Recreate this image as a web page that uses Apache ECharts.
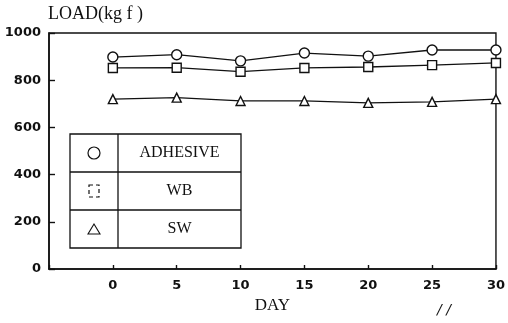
<!DOCTYPE html>
<html>
<head>
<meta charset="utf-8">
<script src="https://cdn.jsdelivr.net/npm/echarts@6/dist/echarts.min.js"></script>
<style>
  html, body { margin: 0; padding: 0; background: #fff; }
  #chart { width: 508px; height: 323px; }
</style>
</head>
<body>
<div id="chart"></div>
<script>
// days of measurement
var days = [0, 5, 10, 15, 20, 25, 30];
// load values (kgf)
var adhesive = [898, 908, 882, 915, 902, 928, 928];
var wb = [852, 853, 836, 852, 856, 864, 873];
var sw = [720, 726, 712, 712, 704, 708, 720];
var yTicks = [0, 200, 400, 600, 800, 1000];
var legendNames = ['ADHESIVE', 'WB', 'SW'];

function pairs(vals) {
  return days.map(function (d, i) { return [d, vals[i]]; });
}

var chart = echarts.init(document.getElementById('chart'));

var markStyle = { color: '#fff', borderColor: '#111', borderWidth: 1.4 };
var lineStyle = { color: '#111', width: 1.3 };

function mkSeries(name, vals, symbol, size) {
  return {
    name: name,
    type: 'line',
    data: pairs(vals),
    symbol: symbol,
    symbolSize: size,
    showAllSymbol: true,
    lineStyle: lineStyle,
    itemStyle: markStyle,
    animation: false,
    z: 3
  };
}

// legend table drawn as plain shapes
var tbl = { x: 70, y: 134, w: 171, h: 114, col: 48 };
var rowH = tbl.h / 3;
var graphics = [
  { type: 'rect', shape: { x: tbl.x, y: tbl.y, width: tbl.w, height: tbl.h },
    style: { fill: '#fff', stroke: '#111', lineWidth: 1.3 }, z: 10 },
  { type: 'line', shape: { x1: tbl.x + tbl.col, y1: tbl.y, x2: tbl.x + tbl.col, y2: tbl.y + tbl.h },
    style: { stroke: '#111', lineWidth: 1.3 }, z: 11 },
  { type: 'line', shape: { x1: tbl.x, y1: tbl.y + rowH, x2: tbl.x + tbl.w, y2: tbl.y + rowH },
    style: { stroke: '#111', lineWidth: 1.3 }, z: 11 },
  { type: 'line', shape: { x1: tbl.x, y1: tbl.y + 2 * rowH, x2: tbl.x + tbl.w, y2: tbl.y + 2 * rowH },
    style: { stroke: '#111', lineWidth: 1.3 }, z: 11 },
  { type: 'circle', shape: { cx: tbl.x + tbl.col / 2, cy: tbl.y + rowH / 2, r: 6 },
    style: { fill: '#fff', stroke: '#111', lineWidth: 1.2 }, z: 12 },
  { type: 'rect', shape: { x: tbl.x + tbl.col / 2 - 5, y: tbl.y + rowH * 1.5 - 6, width: 10, height: 12 },
    style: { fill: '#fff', stroke: '#111', lineWidth: 1.2, lineDash: [4, 3] }, z: 12 },
  { type: 'polygon', shape: { points: [
      [tbl.x + tbl.col / 2, tbl.y + rowH * 2.5 - 5],
      [tbl.x + tbl.col / 2 - 6, tbl.y + rowH * 2.5 + 5],
      [tbl.x + tbl.col / 2 + 6, tbl.y + rowH * 2.5 + 5]] },
    style: { fill: '#fff', stroke: '#111', lineWidth: 1.1 }, z: 12 },
  { type: 'text', x: 48, y: 5,
    style: { text: 'LOAD(kg f )', font: '18px "Liberation Serif"', fill: '#111' } },
  { type: 'text', x: 437, y: 303,
    style: { text: '/ /', font: 'italic 14px "DejaVu Sans"', fill: '#111' } }
];
legendNames.forEach(function (n, i) {
  graphics.push({
    type: 'text', z: 12,
    x: tbl.x + tbl.col + (tbl.w - tbl.col) / 2,
    y: tbl.y + rowH * (i + 0.5),
    style: { text: n, font: '16px "Liberation Serif"', fill: '#111', align: 'center', verticalAlign: 'middle' }
  });
});

chart.setOption({
  animation: false,
  backgroundColor: '#fff',
  grid: {
    left: 49, right: 6, top: 33, bottom: 54,
    show: true, borderColor: '#111', borderWidth: 1.4, backgroundColor: 'transparent'
  },
  xAxis: {
    type: 'value', min: -5, max: 30, interval: 5,
    name: 'DAY', nameLocation: 'middle', nameGap: 27,
    nameTextStyle: { fontFamily: 'Liberation Serif', fontSize: 17, color: '#111' },
    axisLine: { onZero: false, lineStyle: { color: '#111', width: 1.6 } },
    axisTick: { inside: true, length: 4, lineStyle: { color: '#111', width: 1.4 } },
    splitLine: { show: false },
    axisLabel: {
      margin: 10, color: '#111', fontFamily: 'DejaVu Sans', fontSize: 13, fontWeight: 'bold',
      formatter: function (v) { return v < 0 ? '' : String(v); }
    }
  },
  yAxis: {
    type: 'value', min: yTicks[0], max: yTicks[yTicks.length - 1], interval: 200,
    axisLine: { show: true, onZero: false, lineStyle: { color: '#111', width: 1.6 } },
    axisTick: { show: true, inside: true, length: 6, lineStyle: { color: '#111', width: 1.4 } },
    splitLine: { show: false },
    axisLabel: {
      margin: 8, color: '#111', fontFamily: 'DejaVu Sans', fontSize: 13, fontWeight: 'bold',
      formatter: function (v) { return String(v); }
    }
  },
  series: [
    mkSeries('ADHESIVE', adhesive, 'circle', 10),
    mkSeries('WB', wb, 'rect', 9),
    mkSeries('SW', sw, 'triangle', 9)
  ],
  graphic: graphics
});
</script>
</body>
</html>
